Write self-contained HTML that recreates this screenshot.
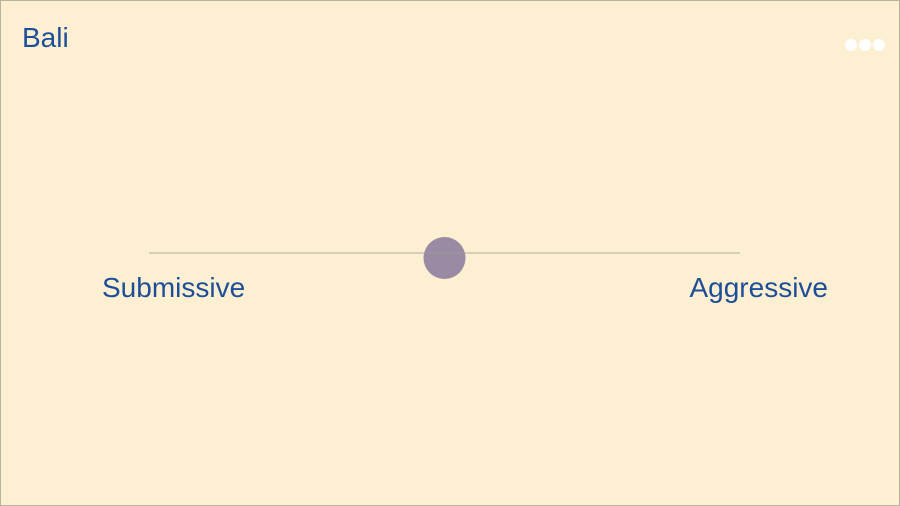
<!DOCTYPE html>
<html><head><meta charset="utf-8"><style>
html,body{margin:0;padding:0}
body{width:900px;height:506px;overflow:hidden;background:#fdefd1;font-family:"Liberation Sans",sans-serif}
#frame{position:absolute;left:0;top:0;width:898px;height:504px;border:1px solid #b8b39c;}
.t{position:absolute;color:#1d4e9a;white-space:nowrap}
</style></head><body>
<div id="frame"></div>
<div class="t" style="left:22px;top:22px;font-size:28px">Bali</div>
<svg width="900" height="506" style="position:absolute;left:0;top:0">
<g>
<circle cx="851" cy="45" r="6" fill="#fff"/><circle cx="865" cy="45" r="6" fill="#fff"/><circle cx="879" cy="45" r="6" fill="#fff"/>
</g>
<g id="marks"></g>
<line id="axis" x1="149" y1="253" x2="740" y2="253" stroke="#a09e94" stroke-width="1" stroke-opacity="0.8"/>
</svg>
<div class="t" style="left:102px;top:272px;font-size:28px">Submissive</div>
<div class="t" style="right:72px;top:272px;font-size:28px">Aggressive</div>
<script>
const categories = ["Bali"];
const values = [0.5];
const x0 = 149, x1 = 740;
function xScale(v){ return x0 + v * (x1 - x0); }
const g = document.getElementById('marks');
values.forEach((v,i)=>{
  const c = document.createElementNS('http://www.w3.org/2000/svg','circle');
  c.setAttribute('cx', xScale(v));
  c.setAttribute('cy', 258);
  c.setAttribute('r', 21);
  c.setAttribute('fill', '#9a8ba4');
  
  
  g.appendChild(c);
});
</script>
</body></html>
